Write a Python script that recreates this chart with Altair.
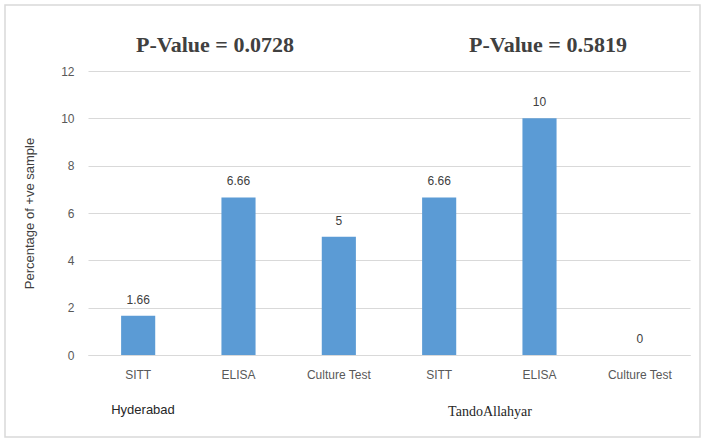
import altair as alt
import pandas as pd

groups = ["Hyderabad", "Hyderabad", "Hyderabad", "TandoAllahyar", "TandoAllahyar", "TandoAllahyar"]
tests = ["SITT", "ELISA", "Culture Test", "SITT", "ELISA", "Culture Test"]
values = [1.66, 6.66, 5, 6.66, 10, 0]
labels = ["1.66", "6.66", "5", "6.66", "10", "0"]
y_ticks = [0, 2, 4, 6, 8, 10, 12]
p_values = ["P-Value = 0.0728", "P-Value = 0.5819"]

keys = [f"{g}|{t}" for g, t in zip(groups, tests)]
df = pd.DataFrame({"key": keys, "group": groups, "test": tests, "value": values, "label": labels})

W, H = 602, 284
FONT = "Liberation Sans"

x_enc = alt.X("key:N", sort=keys,
              scale=alt.Scale(paddingInner=0.66, paddingOuter=0.33),
              axis=alt.Axis(title=None, labelExpr="split(datum.label, '|')[1]",
                            labelAngle=0, labelFont=FONT, labelFontSize=12,
                            labelColor="#595959", labelPadding=14, ticks=False,
                            domain=True, domainColor="#D9D9D9"))
y_enc = alt.Y("value:Q", scale=alt.Scale(domain=[0, 12]),
              axis=alt.Axis(values=y_ticks, title="Percentage of +ve sample",
                            titleFont=FONT, titleFontSize=13, titleFontWeight="normal",
                            titleColor="#404040", titlePadding=24,
                            labelFont=FONT, labelFontSize=12, labelColor="#595959",
                            labelPadding=14, ticks=False, domain=False,
                            gridColor="#D9D9D9"))

base = alt.Chart(df)
bars = base.mark_bar(color="#5B9BD5").encode(x=x_enc, y=y_enc)
bar_text = base.mark_text(dy=-16, font=FONT, fontSize=12, color="#404040").encode(
    x=alt.X("key:N", sort=keys), y="value:Q", text="label:N")

pv = pd.DataFrame({"t": p_values, "px": [127, 460]})
pv_text = alt.Chart(pv).mark_text(font="Liberation Serif", fontSize=22, fontWeight="bold",
                                  color="#404040", y=-26).encode(
    x=alt.X("px:Q", scale=None), text="t:N")

grp1 = alt.Chart(pd.DataFrame({"t": ["Hyderabad"]})).mark_text(
    font=FONT, fontSize=13, color="#262626").encode(
    x=alt.value(55), y=alt.value(339), text="t:N")
grp2 = alt.Chart(pd.DataFrame({"t": ["TandoAllahyar"]})).mark_text(
    font="Liberation Serif", fontSize=14, color="#262626").encode(
    x=alt.value(402), y=alt.value(341), text="t:N")

frame = alt.Chart(pd.DataFrame({"a": [0]})).mark_rect(
    fill=None, stroke="#D9D9D9", strokeWidth=1.5).encode(
    x=alt.value(-83), x2=alt.value(W + 10), y=alt.value(-66), y2=alt.value(H + 82))

chart = alt.layer(frame, bars, bar_text, pv_text, grp1, grp2).properties(
    width=W, height=H, autosize=alt.AutoSizeParams(type="none"),
    padding={"left": 88, "top": 71, "right": 14, "bottom": 87},
    background="white"
).configure_view(stroke=None)

chart.save("out.html", embed_options={"renderer": "svg", "actions": False})
